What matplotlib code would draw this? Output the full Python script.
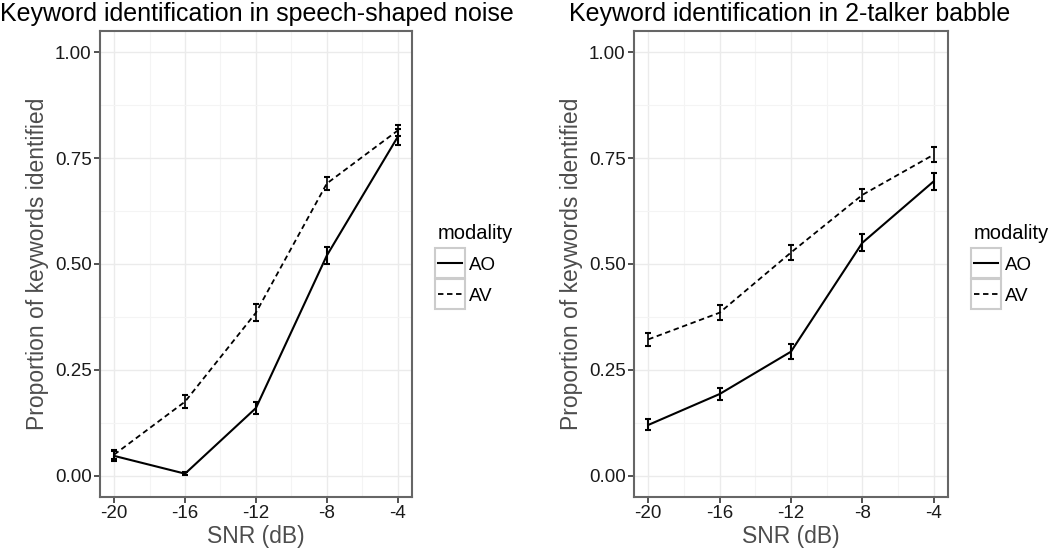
import matplotlib
matplotlib.use('Agg')
import matplotlib.pyplot as plt
from matplotlib.lines import Line2D

plt.rcParams['font.family'] = ['Liberation Sans', 'DejaVu Sans']

snr = [-20, -16, -12, -8, -4]

# speech-shaped noise
ssn_ao = [0.047, 0.005, 0.16, 0.52, 0.80]
ssn_ao_se = [0.012, 0.004, 0.015, 0.02, 0.018]
ssn_av = [0.05, 0.175, 0.385, 0.69, 0.815]
ssn_av_se = [0.01, 0.015, 0.02, 0.015, 0.012]

# 2-talker babble
bab_ao = [0.12, 0.193, 0.293, 0.55, 0.695]
bab_ao_se = [0.013, 0.015, 0.018, 0.02, 0.02]
bab_av = [0.322, 0.385, 0.527, 0.663, 0.758]
bab_av_se = [0.015, 0.017, 0.018, 0.015, 0.017]

titles = ['Keyword identification in speech-shaped noise',
          'Keyword identification in 2-talker babble']
title_x = [0.0, 0.5419]

fig = plt.figure(figsize=(10.5, 5.48), dpi=100)
ax1 = fig.add_axes([0.0952, 0.0931, 0.2971, 0.8504])
ax2 = fig.add_axes([0.6038, 0.0931, 0.2990, 0.8504])

panels = [(ax1, ssn_ao, ssn_ao_se, ssn_av, ssn_av_se),
          (ax2, bab_ao, bab_ao_se, bab_av, bab_av_se)]

for i, (ax, ao, ao_se, av, av_se) in enumerate(panels):
    ax.errorbar(snr, ao, yerr=ao_se, color='black', lw=1.5, capsize=2,
                elinewidth=1.5, capthick=1.5, zorder=3)
    ax.errorbar(snr, av, yerr=av_se, color='black', lw=1.3, ls=(0, (3, 2)),
                capsize=2, elinewidth=1.2, capthick=1.5, zorder=3)
    ax.set_xlim(-20.8, -3.2)
    ax.set_ylim(-0.05, 1.05)
    ax.set_xticks(snr)
    ax.set_xticklabels([str(s) for s in snr])
    ax.set_yticks([0, 0.25, 0.5, 0.75, 1.0])
    ax.set_yticklabels(['0.00', '0.25', '0.50', '0.75', '1.00'])
    ax.set_xticks([-18, -14, -10, -6], minor=True)
    ax.set_yticks([0.125, 0.375, 0.625, 0.875], minor=True)
    ax.grid(True, which='major', color='#ebebeb', lw=1.0)
    ax.grid(True, which='minor', color='#f4f4f4', lw=0.8)
    ax.set_axisbelow(True)
    ax.tick_params(which='minor', length=0)
    ax.tick_params(which='major', length=4, width=1.2, color='#333333',
                   labelsize=13.5, labelcolor='#1a1a1a', pad=2)
    for sp in ax.spines.values():
        sp.set_color('#666666')
        sp.set_linewidth(1.5)
    ax.set_xlabel('SNR (dB)', fontsize=16.5, color='#4d4d4d', labelpad=2)
    ax.set_ylabel('Proportion of keywords identified', fontsize=16.5,
                  color='#4d4d4d', labelpad=4)
    fig.text(title_x[i], 0.997, titles[i], fontsize=18, ha='left', va='top')

    handles = [Line2D([], [], color='black', lw=1.5),
               Line2D([], [], color='black', lw=1.3, ls=(0, (3, 2)))]
    leg = ax.legend(handles, ['AO', 'AV'], title='modality',
                    loc='upper left', bbox_to_anchor=(1.083, 0.585),
                    frameon=False, fontsize=13.5, title_fontsize=14.5,
                    handlelength=1.28, handletextpad=0.37, labelspacing=0.72,
                    borderpad=0, borderaxespad=0)
    leg._legend_box.align = 'left'

fig.canvas.draw()
# grey boxes around legend keys, as in ggplot
renderer = fig.canvas.get_renderer()
inv = fig.transFigure.inverted()
for ax in (ax1, ax2):
    leg = ax.get_legend()
    for h in leg.legend_handles:
        bb = h.get_window_extent(renderer)
        cx = (bb.x0 + bb.x1) / 2
        cy = (bb.y0 + bb.y1) / 2
        w, hgt = 30, 30
        (x0, y0) = inv.transform((cx - w / 2, cy - hgt / 2))
        (x1, y1) = inv.transform((cx + w / 2, cy + hgt / 2))
        fig.patches.append(plt.Rectangle((x0, y0), x1 - x0, y1 - y0,
                                         transform=fig.transFigure,
                                         fill=False, ec='#cccccc', lw=1.5))

fig.savefig('out.png', dpi=100)
